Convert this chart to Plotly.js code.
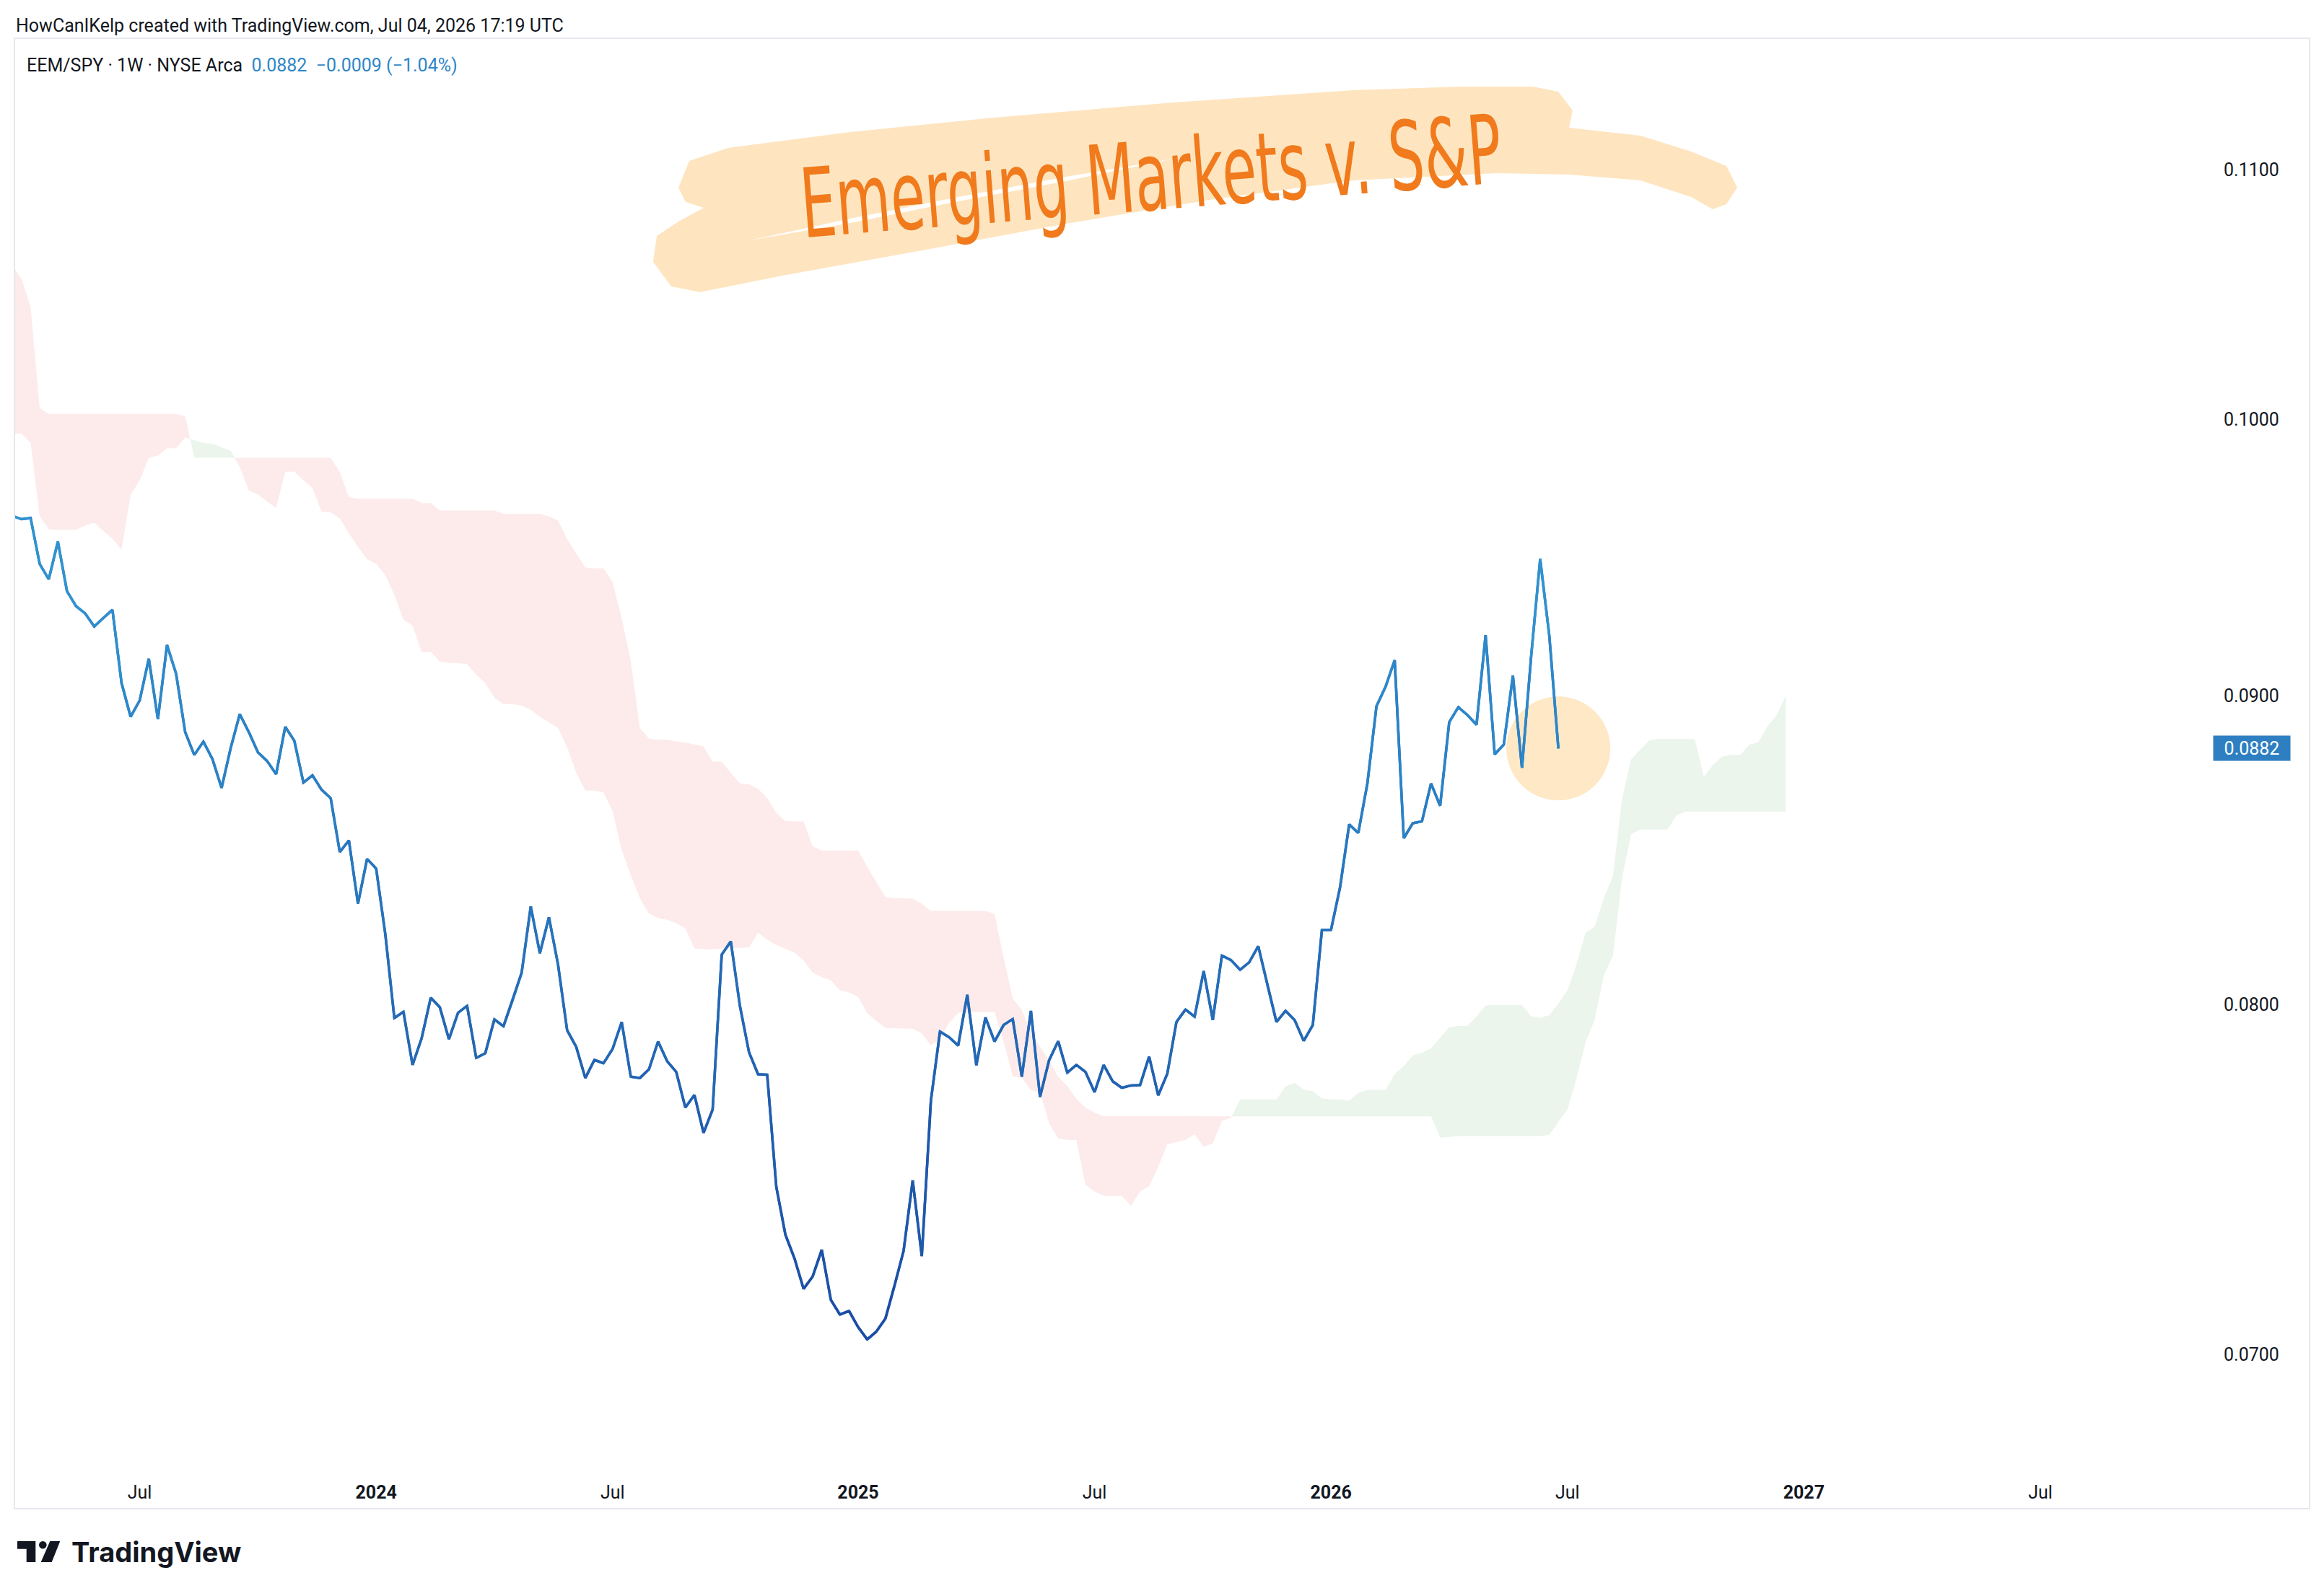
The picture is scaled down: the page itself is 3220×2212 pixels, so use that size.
<!DOCTYPE html>
<html>
<head>
<meta charset="utf-8">
<script src="https://cdn.plot.ly/plotly-3.0.1.min.js"></script>
<style>
html,body{margin:0;padding:0;background:#ffffff;}
#chart{width:3220px;height:2212px;}
</style>
</head>
<body>
<div id="chart"></div>
<script>
// ---------------- DATA ----------------
// Weekly bars, first bar (index 0 of every array) = week of 2023-03-27
const firstWeek = '2023-03-27';

// EEM/SPY weekly close
const ratioClose = [
  0.09639, 0.09627, 0.09631, 0.09464, 0.09409, 0.09545, 0.09366, 0.09313, 0.09287, 0.09241, 0.09271,
  0.09300, 0.09044, 0.08928, 0.08984, 0.09128, 0.08920, 0.09176, 0.09076, 0.08876, 0.08799,
  0.08844, 0.08785, 0.08689, 0.08822, 0.08937, 0.08876, 0.08808, 0.08779, 0.08735, 0.08894,
  0.08847, 0.08707, 0.08731, 0.08683, 0.08655, 0.08479, 0.08517, 0.08314, 0.08457, 0.08426,
  0.08219, 0.07959, 0.07978, 0.07818, 0.07898, 0.08021, 0.07992, 0.07895, 0.07975, 0.07996,
  0.07839, 0.07853, 0.07955, 0.07934, 0.08013, 0.08098, 0.08305, 0.08158, 0.08271, 0.08123,
  0.07922, 0.07872, 0.07779, 0.07833, 0.07823, 0.07866, 0.07947, 0.07783, 0.07779, 0.07805,
  0.07888, 0.07829, 0.07797, 0.07692, 0.07729, 0.07618, 0.07686, 0.08154, 0.08195, 0.07996,
  0.07856, 0.07790, 0.07789, 0.07463, 0.07328, 0.07262, 0.07178, 0.07212, 0.07286, 0.07148,
  0.07108, 0.07118, 0.07074, 0.07041, 0.07062, 0.07097, 0.07187, 0.07283, 0.07481, 0.07268,
  0.07712, 0.07918, 0.07901, 0.07876, 0.08030, 0.07817, 0.07961, 0.07888, 0.07938, 0.07956,
  0.07783, 0.07981, 0.07723, 0.07832, 0.07889, 0.07795, 0.07818, 0.07797, 0.07737, 0.07818,
  0.07769, 0.07750, 0.07757, 0.07758, 0.07843, 0.07728, 0.07792, 0.07947, 0.07985, 0.07963,
  0.08103, 0.07953, 0.08151, 0.08137, 0.08107, 0.08130, 0.08180, 0.08061, 0.07947, 0.07981,
  0.07953, 0.07890, 0.07938, 0.08231, 0.08231, 0.08367, 0.08569, 0.08541, 0.08704, 0.08964,
  0.09031, 0.09123, 0.08524, 0.08573, 0.08579, 0.08704, 0.08630, 0.08910, 0.08961, 0.08934,
  0.08901, 0.09211, 0.08801, 0.08834, 0.09069, 0.08756, 0.09133, 0.09482, 0.09210, 0.08821
];

// Ichimoku Leading Span A (plotted 26 bars ahead)
const spanA = [
  0.09946, 0.09946, 0.09911, 0.09637, 0.09590, 0.09588, 0.09588, 0.09588, 0.09604, 0.09614,
  0.09584, 0.09555, 0.09516, 0.09716, 0.09771, 0.09855, 0.09863, 0.09891, 0.09891, 0.09932,
  0.09922, 0.09911, 0.09908, 0.09895, 0.09881, 0.09821, 0.09732, 0.09718, 0.09692, 0.09667,
  0.09803, 0.09803, 0.09771, 0.09742, 0.09653, 0.09653, 0.09629, 0.09575, 0.09526, 0.09481,
  0.09464, 0.09424, 0.09353, 0.09264, 0.09245, 0.09151, 0.09151, 0.09118, 0.09114, 0.09113,
  0.09109, 0.09072, 0.09044, 0.08993, 0.08971, 0.08971, 0.08967, 0.08952, 0.08928, 0.08908,
  0.08890, 0.08825, 0.08739, 0.08680, 0.08680, 0.08674, 0.08612, 0.08486, 0.08404, 0.08331,
  0.08283, 0.08268, 0.08263, 0.08252, 0.08236, 0.08173, 0.08171, 0.08171, 0.08173, 0.08175,
  0.08175, 0.08176, 0.08222, 0.08200, 0.08184, 0.08172, 0.08160, 0.08136, 0.08098, 0.08084,
  0.08074, 0.08044, 0.08037, 0.08024, 0.07974, 0.07950, 0.07929, 0.07928, 0.07928, 0.07927,
  0.07912, 0.07876, 0.07896, 0.07944, 0.07975, 0.07977, 0.07977, 0.07977, 0.07977, 0.07888,
  0.07783, 0.07780, 0.07743, 0.07737, 0.07645, 0.07602, 0.07598, 0.07597, 0.07468, 0.07450,
  0.07437, 0.07437, 0.07437, 0.07409, 0.07450, 0.07464, 0.07520, 0.07585, 0.07592, 0.07598,
  0.07614, 0.07577, 0.07588, 0.07653, 0.07662, 0.07716, 0.07716, 0.07716, 0.07716, 0.07716,
  0.07754, 0.07765, 0.07745, 0.07740, 0.07719, 0.07716, 0.07716, 0.07712, 0.07735, 0.07744,
  0.07744, 0.07744, 0.07791, 0.07814, 0.07847, 0.07854, 0.07868, 0.07900, 0.07931, 0.07935,
  0.07935, 0.07964, 0.07997, 0.07999, 0.07999, 0.07999, 0.07999, 0.07964, 0.07960, 0.07968,
  0.08003, 0.08043, 0.08125, 0.08222, 0.08241, 0.08331, 0.08402, 0.08652, 0.08784, 0.08817,
  0.08848, 0.08853, 0.08853, 0.08853, 0.08853, 0.08853, 0.08726, 0.08766, 0.08794, 0.08799,
  0.08799, 0.08834, 0.08842, 0.08896, 0.08933, 0.09000
];

// Ichimoku Leading Span B (plotted 26 bars ahead)
const spanB = [
  0.10604, 0.10551, 0.10439, 0.10044, 0.10021, 0.10021, 0.10021, 0.10021, 0.10021, 0.10021,
  0.10021, 0.10021, 0.10021, 0.10021, 0.10021, 0.10021, 0.10021, 0.10021, 0.10021, 0.10013,
  0.09855, 0.09855, 0.09855, 0.09855, 0.09855, 0.09855, 0.09855, 0.09855, 0.09855, 0.09855,
  0.09855, 0.09855, 0.09855, 0.09855, 0.09855, 0.09855, 0.09801, 0.09708, 0.09702, 0.09702,
  0.09702, 0.09702, 0.09702, 0.09702, 0.09702, 0.09686, 0.09686, 0.09659, 0.09659, 0.09659,
  0.09659, 0.09659, 0.09659, 0.09659, 0.09647, 0.09647, 0.09647, 0.09647, 0.09647, 0.09637,
  0.09622, 0.09554, 0.09503, 0.09451, 0.09448, 0.09448, 0.09399, 0.09270, 0.09119, 0.08890,
  0.08854, 0.08851, 0.08851, 0.08844, 0.08841, 0.08835, 0.08828, 0.08777, 0.08777, 0.08739,
  0.08704, 0.08701, 0.08686, 0.08655, 0.08607, 0.08580, 0.08579, 0.08579, 0.08497, 0.08484,
  0.08484, 0.08484, 0.08484, 0.08484, 0.08432, 0.08383, 0.08335, 0.08331, 0.08331, 0.08330,
  0.08314, 0.08291, 0.08291, 0.08291, 0.08291, 0.08291, 0.08291, 0.08291, 0.08282, 0.08145,
  0.08019, 0.07983, 0.07917, 0.07873, 0.07832, 0.07783, 0.07756, 0.07717, 0.07692, 0.07677,
  0.07667, 0.07666, 0.07666, 0.07666, 0.07666, 0.07666, 0.07666, 0.07666, 0.07666, 0.07666,
  0.07666, 0.07666, 0.07666, 0.07666, 0.07666, 0.07666, 0.07666, 0.07666, 0.07666, 0.07666,
  0.07666, 0.07666, 0.07666, 0.07666, 0.07666, 0.07666, 0.07666, 0.07666, 0.07666, 0.07666,
  0.07666, 0.07666, 0.07666, 0.07666, 0.07666, 0.07666, 0.07666, 0.07604, 0.07606, 0.07609,
  0.07609, 0.07609, 0.07609, 0.07609, 0.07609, 0.07609, 0.07609, 0.07609, 0.07609, 0.07612,
  0.07650, 0.07686, 0.07778, 0.07886, 0.07954, 0.08090, 0.08150, 0.08395, 0.08537, 0.08552,
  0.08552, 0.08552, 0.08552, 0.08599, 0.08611, 0.08611, 0.08611, 0.08611, 0.08611, 0.08611,
  0.08611, 0.08611, 0.08611, 0.08611, 0.08611, 0.08611
];

const xTickVals = ['2023-07-03','2024-01-01','2024-07-01','2025-01-06','2025-07-07','2026-01-05','2026-07-06','2027-01-04','2027-07-05'];
const xTickText = ['Jul','<b>2024</b>','Jul','<b>2025</b>','Jul','<b>2026</b>','Jul','<b>2027</b>','Jul'];
const yTickVals = [0.07, 0.08, 0.09, 0.10, 0.11];
const yTickText = ['0.0700', '0.0800', '0.0900', '0.1000', '0.1100'];

const headerText = 'HowCanIKelp created with TradingView.com, Jul 04, 2026 17:19 UTC';
const symbolText = 'EEM/SPY · 1W · NYSE Arca';
const quoteText = '0.0882&nbsp;&nbsp;−0.0009 (−1.04%)';
const lastLabel = '0.0882';
const noteText = 'Emerging Markets v. S&amp;P';

// ---------------- BUILD ----------------
const DAY = 86400000;
const t0 = Date.parse(firstWeek + 'T00:00:00Z');
const lineX = ratioClose.map((_, i) => t0 + i * 7 * DAY);
const cloudX = spanA.map((_, i) => t0 + i * 7 * DAY);

const PINK = '#fdebeb', GREEN = '#ebf5ec';
const FONT = 'Roboto, "Noto Sans", "Liberation Sans", sans-serif';
const TXT = '#131722';

const traces = [];

// cloud runs (green where span A >= span B)
(function () {
  const runs = [];
  let cur = null;
  for (let i = 0; i < spanA.length; i++) {
    const bull = spanA[i] >= spanB[i];
    if (!cur) { cur = {bull, xs: [cloudX[i]], a: [spanA[i]], b: [spanB[i]]}; continue; }
    if (bull !== cur.bull) {
      const d0 = Math.log(spanA[i - 1]) - Math.log(spanB[i - 1]);
      const d1 = Math.log(spanA[i]) - Math.log(spanB[i]);
      const t = d0 / (d0 - d1);
      const xc = cloudX[i - 1] + t * (cloudX[i] - cloudX[i - 1]);
      const vc = Math.exp(Math.log(spanA[i - 1]) + t * (Math.log(spanA[i]) - Math.log(spanA[i - 1])));
      cur.xs.push(xc); cur.a.push(vc); cur.b.push(vc);
      runs.push(cur);
      cur = {bull, xs: [xc, cloudX[i]], a: [vc, spanA[i]], b: [vc, spanB[i]]};
    } else {
      cur.xs.push(cloudX[i]); cur.a.push(spanA[i]); cur.b.push(spanB[i]);
    }
  }
  runs.push(cur);
  runs.forEach(r => {
    traces.push({
      type: 'scatter', mode: 'lines',
      x: r.xs.concat(r.xs.slice().reverse()),
      y: r.a.concat(r.b.slice().reverse()),
      fill: 'toself', fillcolor: r.bull ? GREEN : PINK,
      line: {width: 0, color: r.bull ? GREEN : PINK},
      hoverinfo: 'skip', showlegend: false
    });
  });
})();

// highlight circle at the last bar
traces.push({
  type: 'scatter', mode: 'markers',
  x: [lineX[lineX.length - 1]], y: [ratioClose[ratioClose.length - 1]],
  marker: {size: 144, color: '#fee8c6', line: {width: 0}},
  hoverinfo: 'skip', showlegend: false
});

// price line coloured by level (dark at lows, light at highs)
const darkC = [27, 74, 163], lightC = [49, 150, 210];
const lo = Math.log(0.0705), hi = Math.log(0.0950);
function colorAt(v) {
  let t = (Math.log(v) - lo) / (hi - lo);
  t = Math.max(0, Math.min(1, t));
  const c = darkC.map((d, j) => Math.round(d + (lightC[j] - d) * t));
  return 'rgb(' + c.join(',') + ')';
}
const LW = 3.5;
traces.push({
  type: 'scatter', mode: 'lines', x: lineX, y: ratioClose,
  line: {width: LW, color: colorAt(0.08)}, hoverinfo: 'skip', showlegend: false
});
const NB = 14;
const bins = Array.from({length: NB}, () => ({x: [], y: []}));
for (let i = 0; i < ratioClose.length - 1; i++) {
  const m = Math.exp((Math.log(ratioClose[i]) + Math.log(ratioClose[i + 1])) / 2);
  let t = (Math.log(m) - lo) / (hi - lo);
  t = Math.max(0, Math.min(0.9999, t));
  const b = Math.floor(t * NB);
  bins[b].x.push(lineX[i], lineX[i + 1], null);
  bins[b].y.push(ratioClose[i], ratioClose[i + 1], null);
}
bins.forEach((b, k) => {
  if (!b.x.length) return;
  const v = Math.exp(lo + (k + 0.5) / NB * (hi - lo));
  traces.push({
    type: 'scatter', mode: 'lines', x: b.x, y: b.y, connectgaps: false,
    line: {width: LW, color: colorAt(v)}, hoverinfo: 'skip', showlegend: false
  });
});

// ---------------- LAYOUT ----------------
const PL = 20, PT = 53, PW = 3046, PH = 1982;
const px = x => (x - PL) / PW;
const py = y => (PT + PH - y) / PH;
function pathFrom(pts) {
  return 'M' + pts.map(p => px(p[0]).toFixed(5) + ',' + py(p[1]).toFixed(5)).join(' L') + ' Z';
}

const highlightPts = [
  [940,260],[955,223],[1009,205],[1178,183],[1377,163],[1626,142],[1875,125],[2024,120],[2124,120],
  [2159,127],[2179,153],[2174,177],[2273,188],[2343,210],[2392,230],[2407,260],[2392,283],[2373,290],
  [2343,273],[2273,250],[2174,242],[2074,240],[1875,250],[1676,277],[1477,310],[1278,347],[1079,383],
  [970,405],[930,397],[905,363],[910,327],[940,307],[975,288],[950,280]
];
const wedgePts = [
  [1039,333],[1178,303],[1328,273],[1477,245],[1626,220],[1477,251],[1328,279],[1178,309]
];

const shapes = [
  {type: 'path', xref: 'paper', yref: 'paper', path: pathFrom(highlightPts),
   fillcolor: '#fee5c0', line: {width: 0}, layer: 'above'},
  {type: 'path', xref: 'paper', yref: 'paper', path: pathFrom(wedgePts),
   fillcolor: '#ffffff', line: {width: 0}, layer: 'above'},
  // pane border
  {type: 'rect', xref: 'paper', yref: 'paper', x0: px(20), x1: px(3200), y0: py(2091), y1: py(53),
   line: {color: '#e6e8ee', width: 2}, fillcolor: 'rgba(0,0,0,0)', layer: 'above'},
  // TradingView logo
  {type: 'path', xref: 'paper', yref: 'paper',
   path: pathFrom([[24,2136],[49.3,2136],[49.3,2165],[36.7,2165],[36.7,2146.7],[24,2146.7]]),
   fillcolor: '#131722', line: {width: 0}},
  {type: 'circle', xref: 'paper', yref: 'paper', x0: px(54), x1: px(64.6), y0: py(2146.6), y1: py(2136),
   fillcolor: '#131722', line: {width: 0}},
  {type: 'path', xref: 'paper', yref: 'paper',
   path: pathFrom([[69.3,2136],[83.3,2136],[71.7,2165],[56.7,2165]]),
   fillcolor: '#131722', line: {width: 0}}
];

const annotations = [
  {xref: 'paper', yref: 'paper', x: px(20), y: py(35), xanchor: 'left', yanchor: 'middle',
   text: headerText, showarrow: false, font: {family: FONT, size: 25, color: TXT}},
  {xref: 'paper', yref: 'paper', x: px(35), y: py(90), xanchor: 'left', yanchor: 'middle',
   text: symbolText + '&nbsp;&nbsp;<span style="color:#2f86c8">' + quoteText + '</span>',
   showarrow: false, font: {family: FONT, size: 25, color: TXT}},
  {xref: 'paper', yref: 'y', x: 1, y: Math.log10(ratioClose[ratioClose.length - 1]),
   xanchor: 'left', yanchor: 'middle', text: lastLabel, showarrow: false,
   bgcolor: '#2e7fc2', width: 104, height: 32, borderpad: 1,
   font: {family: FONT, size: 25, color: '#ffffff'}},
  {xref: 'paper', yref: 'paper', x: px(1595), y: py(245), xanchor: 'center', yanchor: 'middle',
   text: noteText, showarrow: false, textangle: -4.5,
   font: {family: '"Liberation Sans Narrow", "DejaVu Sans Condensed", "Liberation Sans", sans-serif', size: 104, color: '#f07a1c'}},
  {xref: 'paper', yref: 'paper', x: px(97), y: py(2151), xanchor: 'left', yanchor: 'middle',
   text: '<b>TradingView</b>', showarrow: false,
   font: {family: 'Inter, Roboto, sans-serif', size: 38, color: '#131722'}}
];

const layout = {
  width: 3220, height: 2212, autosize: false,
  paper_bgcolor: '#ffffff', plot_bgcolor: '#ffffff',
  margin: {l: PL, r: 3220 - PL - PW, t: PT, b: 2212 - PT - PH, pad: 0},
  showlegend: false,
  font: {family: FONT, size: 25, color: TXT},
  xaxis: {
    type: 'date', range: ['2023-03-28 13:26', '2027-11-14 19:12'],
    tickmode: 'array', tickvals: xTickVals, ticktext: xTickText,
    showgrid: false, zeroline: false, showline: false, ticks: '',
    ticklabelstandoff: 16, tickfont: {family: FONT, size: 25, color: TXT}, fixedrange: true
  },
  yaxis: {
    type: 'log', range: [-1.173712, -0.936857], side: 'right',
    tickmode: 'array', tickvals: yTickVals, ticktext: yTickText,
    showgrid: false, zeroline: false, showline: false, ticks: '',
    ticklabelstandoff: 14, tickfont: {family: FONT, size: 25, color: TXT}, fixedrange: true
  },
  shapes: shapes,
  annotations: annotations
};

Plotly.newPlot('chart', traces, layout, {displayModeBar: false, staticPlot: true}).then(gd => {
  // narrow, tall hand-lettering look for the note
  gd.querySelectorAll('.annotation-text').forEach(t => {
    if (t.textContent.indexOf('Emerging') === 0) {
      t.style.transformBox = 'fill-box';
      t.style.transformOrigin = 'center';
      t.style.transform = 'scale(0.83, 1.28)';
    }
  });
});
</script>
</body>
</html>
